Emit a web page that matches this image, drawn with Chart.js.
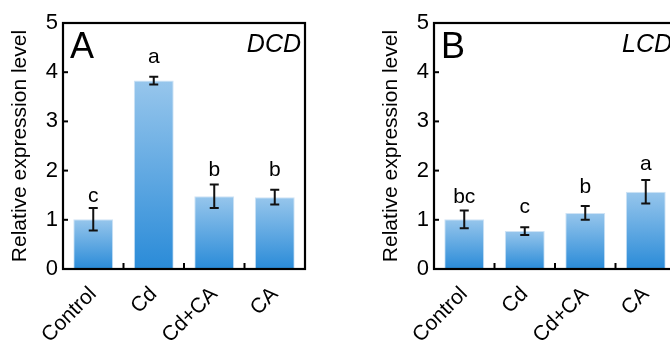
<!DOCTYPE html>
<html>
<head>
<meta charset="utf-8">
<script src="https://cdn.jsdelivr.net/npm/chart.js@4.4.1/dist/chart.umd.min.js"></script>
<style>
  html, body { margin: 0; padding: 0; background: #fff; width: 670px; height: 342px; overflow: hidden; position: relative; }
  .panel { position: absolute; top: 0; width: 335px; height: 342px; }
  #wrapA { left: 0; }
  #wrapB { left: 371px; }
</style>
</head>
<body>
<div class="panel" id="wrapA"><canvas id="chartA" width="335" height="342"></canvas></div>
<div class="panel" id="wrapB"><canvas id="chartB" width="335" height="342"></canvas></div>
<script>
// ---- data ----
const categories = ["Control", "Cd", "Cd+CA", "CA"];
const yTicks = [0, 1, 2, 3, 4, 5];

const dcdValues = [1.01, 3.83, 1.48, 1.46];
const dcdErrors = [0.23, 0.08, 0.24, 0.15];
const dcdLetters = ["c", "a", "b", "b"];
const dcdLetterAt = [1.36, 4.19, 1.89, 1.89];

const lcdValues = [1.01, 0.77, 1.14, 1.57];
const lcdErrors = [0.18, 0.08, 0.14, 0.24];
const lcdLetters = ["bc", "c", "b", "a"];
const lcdLetterAt = [1.34, 1.14, 1.55, 2.02];

const FONT = "Arial, 'Liberation Sans', Helvetica, sans-serif";

function gradientFill(ctx) {
  const chart = ctx.chart;
  const y = chart.scales && chart.scales.y;
  if (!chart.chartArea || !y || ctx.parsed === undefined) return "#5aa5e2";
  const top = y.getPixelForValue(ctx.parsed.y);
  const bottom = y.getPixelForValue(0);
  if (!isFinite(top) || !isFinite(bottom) || top === bottom) return "#5aa5e2";
  const g = chart.ctx.createLinearGradient(0, top, 0, bottom);
  g.addColorStop(0, "#97c6ec");
  g.addColorStop(1, "#2a8bd8");
  return g;
}

const decorPlugin = {
  id: "decor",
  afterDatasetsDraw(chart, args, opts) {
    const ctx = chart.ctx;
    const xs = chart.scales.x, ys = chart.scales.y;
    const area = chart.chartArea;
    const meta = chart.getDatasetMeta(0);
    ctx.save();
    // error bars
    ctx.strokeStyle = "#111";
    ctx.lineWidth = 2;
    opts.values.forEach((v, i) => {
      const x = meta.data[i].x;
      const yHi = ys.getPixelForValue(v + opts.errors[i]);
      const yLo = ys.getPixelForValue(v - opts.errors[i]);
      const cap = 4.5;
      ctx.beginPath();
      ctx.moveTo(x, yHi); ctx.lineTo(x, yLo);
      ctx.moveTo(x - cap, yHi); ctx.lineTo(x + cap, yHi);
      ctx.moveTo(x - cap, yLo); ctx.lineTo(x + cap, yLo);
      ctx.stroke();
    });
    // significance letters
    ctx.fillStyle = "#000";
    ctx.font = "21px " + FONT;
    ctx.textAlign = "center";
    ctx.textBaseline = "alphabetic";
    opts.letters.forEach((t, i) => {
      ctx.fillText(t, meta.data[i].x, ys.getPixelForValue(opts.letterAt[i]));
    });
    // frame
    ctx.strokeStyle = "#000";
    ctx.lineWidth = 2.2;
    ctx.strokeRect(area.left, area.top, area.right - area.left, area.bottom - area.top);
    // inward ticks on y axis
    ctx.lineWidth = 2;
    ys.ticks.forEach(t => {
      const py = ys.getPixelForValue(t.value);
      ctx.beginPath(); ctx.moveTo(area.left, py); ctx.lineTo(area.left + 5, py); ctx.stroke();
    });
    // inward ticks between categories on x axis
    for (let i = 1; i < categories.length; i++) {
      const px = (xs.getPixelForValue(i - 1) + xs.getPixelForValue(i)) / 2;
      ctx.beginPath(); ctx.moveTo(px, area.bottom); ctx.lineTo(px, area.bottom - 6); ctx.stroke();
    }
    // panel letter and gene name
    ctx.textAlign = "left";
    ctx.font = "36px " + FONT;
    ctx.fillText(opts.panel, area.left + 7, area.top + 35);
    ctx.font = "italic 25px " + FONT;
    ctx.textAlign = "right";
    ctx.fillText(opts.gene, area.right - 4, area.top + 29);
    ctx.restore();
  }
};

function makeChart(id, values, errors, letters, letterAt, panel, gene) {
  return new Chart(document.getElementById(id), {
    type: "bar",
    data: {
      labels: categories,
      datasets: [{
        data: values,
        backgroundColor: gradientFill,
        borderColor: "#cfe3f5",
        borderWidth: 1,
        categoryPercentage: 1.0,
        barPercentage: 0.66
      }]
    },
    options: {
      responsive: false,
      animation: false,
      events: [],
      layout: { padding: { left: 0, top: 23, right: 30, bottom: 0 } },
      plugins: {
        legend: { display: false },
        tooltip: { enabled: false },
        decor: { values, errors, letters, letterAt, panel, gene }
      },
      scales: {
        x: {
          grid: { display: false, drawTicks: false },
          border: { display: false },
          ticks: {
            color: "#000",
            font: { family: FONT, size: 21 },
            minRotation: 45, maxRotation: 45,
            padding: 13
          },
          afterFit: s => { s.height = 73; }
        },
        y: {
          min: 0, max: 5,
          grid: { display: false, drawTicks: false },
          border: { display: false },
          afterBuildTicks: s => { s.ticks = yTicks.map(v => ({ value: v })); },
          ticks: {
            color: "#000",
            font: { family: FONT, size: 22 },
            padding: 5
          },
          title: {
            display: true,
            text: "Relative expression level",
            color: "#000",
            font: { family: FONT, size: 21 },
            padding: { top: 8, bottom: 0 }
          },
          afterFit: s => { s.width = 63; }
        }
      }
    },
    plugins: [decorPlugin]
  });
}

makeChart("chartA", dcdValues, dcdErrors, dcdLetters, dcdLetterAt, "A", "DCD");
makeChart("chartB", lcdValues, lcdErrors, lcdLetters, lcdLetterAt, "B", "LCD");
</script>
</body>
</html>
